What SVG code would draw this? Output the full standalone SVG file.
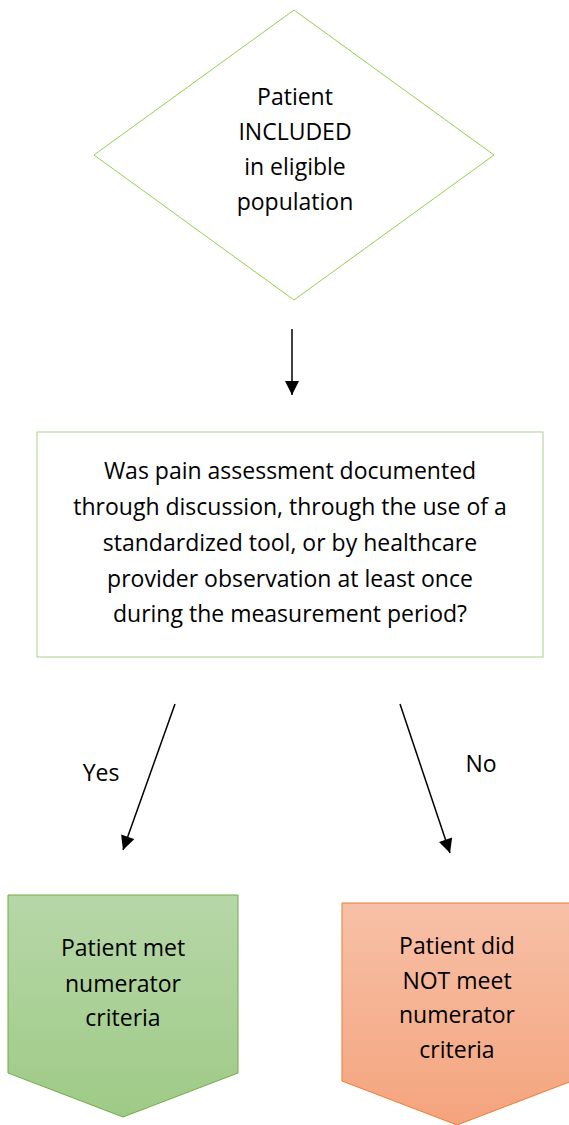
<svg xmlns="http://www.w3.org/2000/svg" width="569" height="1125" viewBox="0 0 569 1125">
<style>
text{font-family:"Open Sans","Liberation Sans",sans-serif;font-size:23px;fill:#000;text-anchor:middle}
.conn{stroke:#000;stroke-width:1.5;fill:none}
</style>
<defs>
<marker id="ah" viewBox="0 0 10 10" refX="10" refY="5" markerWidth="15" markerHeight="14" markerUnits="userSpaceOnUse" orient="auto">
<path d="M0,0 L10,5 L0,10 Z" fill="#000"/>
</marker>
<linearGradient id="gg" x1="0" y1="0" x2="0" y2="1"><stop offset="0" stop-color="#b6d7a8"/><stop offset="1" stop-color="#9fca86"/></linearGradient>
<linearGradient id="og" x1="0" y1="0" x2="0" y2="1"><stop offset="0" stop-color="#f7c0a7"/><stop offset="1" stop-color="#f4a47d"/></linearGradient>
</defs>
<rect width="569" height="1125" fill="#fff"/>
<g id="diamond">
<polygon points="294,10 494,155 294,300 94,155" fill="#fff" stroke="#92d050" stroke-width="1"/>
<text x="295" y="105">Patient</text>
<text x="295" y="140">INCLUDED</text>
<text x="295" y="175">in eligible</text>
<text x="295" y="210">population</text>
</g>
<g id="question">
<rect x="37" y="432" width="506" height="225" fill="#fff" stroke="#a9d18e" stroke-width="1"/>
<text x="290" y="479">Was pain assessment documented</text>
<text x="290" y="515">through discussion, through the use of a</text>
<text x="290" y="551">standardized tool, or by healthcare</text>
<text x="290" y="587">provider observation at least once</text>
<text x="290" y="622">during the measurement period?</text>
</g>
<g id="met">
<polygon points="8,895 238,895 238,1073 123,1117 8,1073" fill="url(#gg)" stroke="#70ad47" stroke-width="1"/>
<text x="123" y="956">Patient met</text>
<text x="123" y="992">numerator</text>
<text x="123" y="1026">criteria</text>
</g>
<g id="notmet">
<polygon points="342,903 572,903 572,1081 457,1125 342,1081" fill="url(#og)" stroke="#ed7d31" stroke-width="1"/>
<text x="457" y="954">Patient did</text>
<text x="457" y="989">NOT meet</text>
<text x="457" y="1023">numerator</text>
<text x="457" y="1058">criteria</text>
</g>
<g id="connectors">
<line class="conn" x1="292" y1="329" x2="292" y2="395" marker-end="url(#ah)"/>
<line class="conn" x1="175" y1="704" x2="123" y2="850" marker-end="url(#ah)"/>
<line class="conn" x1="400" y1="704" x2="450" y2="853" marker-end="url(#ah)"/>
<text x="101" y="781">Yes</text>
<text x="481" y="772">No</text>
</g>
</svg>
